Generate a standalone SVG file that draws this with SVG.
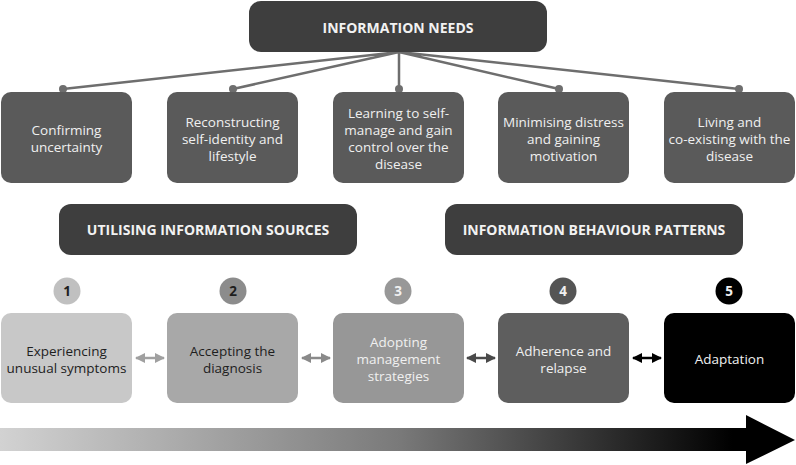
<svg xmlns="http://www.w3.org/2000/svg" width="796" height="465" viewBox="0 0 796 465">
<defs>
<style>
.t{font-family:"Open Sans","Liberation Sans",sans-serif;font-size:13.5px;text-anchor:middle}
.h{font-family:"Open Sans","Liberation Sans",sans-serif;font-size:14px;font-weight:bold;text-anchor:middle;fill:#f2f2f2}
.w{fill:#f0f0f0}
.d{fill:#1e1e1e}
.n{font-family:"Open Sans","Liberation Sans",sans-serif;font-size:13.5px;font-weight:bold;text-anchor:middle}
.top{fill:#5a5a5a}
.hdr{fill:#3e3e3e}
.ln{stroke:#6e6e6e;stroke-width:2.5;fill:none}
</style>
<linearGradient id="g" x1="0" y1="0" x2="796" y2="0" gradientUnits="userSpaceOnUse">
<stop offset="0" stop-color="#d2d2d2"/>
<stop offset="0.5" stop-color="#7a7a7a"/>
<stop offset="0.92" stop-color="#000"/>
</linearGradient>
<marker id="a1" viewBox="0 0 10 10" refX="9" refY="5" markerWidth="4" markerHeight="4" orient="auto-start-reverse" markerUnits="strokeWidth"><path d="M0,0L10,5L0,10z" fill="#a0a0a0"/></marker>
<marker id="a2" viewBox="0 0 10 10" refX="9" refY="5" markerWidth="4" markerHeight="4" orient="auto-start-reverse" markerUnits="strokeWidth"><path d="M0,0L10,5L0,10z" fill="#8a8a8a"/></marker>
<marker id="a3" viewBox="0 0 10 10" refX="9" refY="5" markerWidth="4" markerHeight="4" orient="auto-start-reverse" markerUnits="strokeWidth"><path d="M0,0L10,5L0,10z" fill="#4a4a4a"/></marker>
<marker id="a4" viewBox="0 0 10 10" refX="9" refY="5" markerWidth="4" markerHeight="4" orient="auto-start-reverse" markerUnits="strokeWidth"><path d="M0,0L10,5L0,10z" fill="#000"/></marker>
</defs>
<rect width="796" height="465" fill="#fff"/>

<g id="connectors">
<path class="ln" d="M399,52L63,89M399,52L233,89M399,52L399,89M399,52L559,89M399,52L739,89"/>
<g fill="#6e6e6e">
<circle cx="63" cy="89" r="4"/><circle cx="233" cy="89" r="4"/><circle cx="399" cy="89" r="4"/><circle cx="559" cy="89" r="4"/><circle cx="739" cy="89" r="4"/>
</g>
<line x1="136" y1="358" x2="164" y2="358" stroke="#a0a0a0" stroke-width="2.5" marker-start="url(#a1)" marker-end="url(#a1)"/>
<line x1="302" y1="358" x2="330" y2="358" stroke="#8a8a8a" stroke-width="2.5" marker-start="url(#a2)" marker-end="url(#a2)"/>
<line x1="467" y1="358" x2="495" y2="358" stroke="#4a4a4a" stroke-width="2.5" marker-start="url(#a3)" marker-end="url(#a3)"/>
<line x1="633" y1="358" x2="661" y2="358" stroke="#000" stroke-width="2.5" marker-start="url(#a4)" marker-end="url(#a4)"/>
</g>

<g id="info-needs">
<rect class="hdr" x="249" y="1" width="298" height="51" rx="12"/>
<text class="h" x="398" y="33">INFORMATION NEEDS</text>
</g>

<g id="need1"><rect class="top" x="1" y="92" width="131" height="91" rx="10"/>
<text class="t w" x="66.5"><tspan x="66.5" y="135">Confirming</tspan><tspan x="66.5" y="152">uncertainty</tspan></text></g>
<g id="need2"><rect class="top" x="167" y="92" width="131" height="91" rx="10"/>
<text class="t w"><tspan x="232.5" y="127">Reconstructing</tspan><tspan x="232.5" y="144">self-identity and</tspan><tspan x="232.5" y="161">lifestyle</tspan></text></g>
<g id="need3"><rect class="top" x="333" y="92" width="131" height="91" rx="10"/>
<text class="t w"><tspan x="398.5" y="118">Learning to self-</tspan><tspan x="398.5" y="135">manage and gain</tspan><tspan x="398.5" y="152">control over the</tspan><tspan x="398.5" y="169">disease</tspan></text></g>
<g id="need4"><rect class="top" x="498" y="92" width="131" height="91" rx="10"/>
<text class="t w"><tspan x="563.5" y="127">Minimising distress</tspan><tspan x="563.5" y="144">and gaining</tspan><tspan x="563.5" y="161">motivation</tspan></text></g>
<g id="need5"><rect class="top" x="664" y="92" width="131" height="91" rx="10"/>
<text class="t w"><tspan x="729.5" y="127">Living and</tspan><tspan x="729.5" y="144">co-existing with the</tspan><tspan x="729.5" y="161">disease</tspan></text></g>

<g id="sources"><rect class="hdr" x="59" y="204" width="298" height="51" rx="12"/>
<text class="h" x="208" y="235">UTILISING INFORMATION SOURCES</text></g>
<g id="patterns"><rect class="hdr" x="445" y="204" width="298" height="51" rx="12"/>
<text class="h" x="594" y="235">INFORMATION BEHAVIOUR PATTERNS</text></g>

<g id="stage1">
<circle cx="67" cy="291" r="13.5" fill="#c0c0c0"/><text class="n d" x="67" y="296">1</text>
<rect x="1" y="313" width="131" height="90" rx="10" fill="#c8c8c8"/>
<text class="t d"><tspan x="66.5" y="356">Experiencing</tspan><tspan x="66.5" y="373">unusual symptoms</tspan></text></g>
<g id="stage2">
<circle cx="233" cy="291" r="13.5" fill="#8c8c8c"/><text class="n d" x="233" y="296">2</text>
<rect x="167" y="313" width="131" height="90" rx="10" fill="#a8a8a8"/>
<text class="t d"><tspan x="232.5" y="356">Accepting the</tspan><tspan x="232.5" y="373">diagnosis</tspan></text></g>
<g id="stage3">
<circle cx="398" cy="291" r="13.5" fill="#989898"/><text class="n w" x="398" y="296">3</text>
<rect x="333" y="313" width="131" height="90" rx="10" fill="#979797"/>
<text class="t w"><tspan x="398.5" y="347">Adopting</tspan><tspan x="398.5" y="364">management</tspan><tspan x="398.5" y="381">strategies</tspan></text></g>
<g id="stage4">
<circle cx="563" cy="291" r="13.5" fill="#555"/><text class="n w" x="563" y="296">4</text>
<rect x="498" y="313" width="131" height="90" rx="10" fill="#5e5e5e"/>
<text class="t w"><tspan x="563.5" y="356">Adherence and</tspan><tspan x="563.5" y="373">relapse</tspan></text></g>
<g id="stage5">
<circle cx="729" cy="291" r="13.5" fill="#000"/><text class="n w" x="729" y="296">5</text>
<rect x="664" y="313" width="131" height="90" rx="10" fill="#000"/>
<text class="t w" x="729.5" y="364">Adaptation</text></g>

<g id="timeline">
<path d="M0,428H746V415L795,440L746,464V451H0Z" fill="url(#g)"/>
</g>
</svg>
